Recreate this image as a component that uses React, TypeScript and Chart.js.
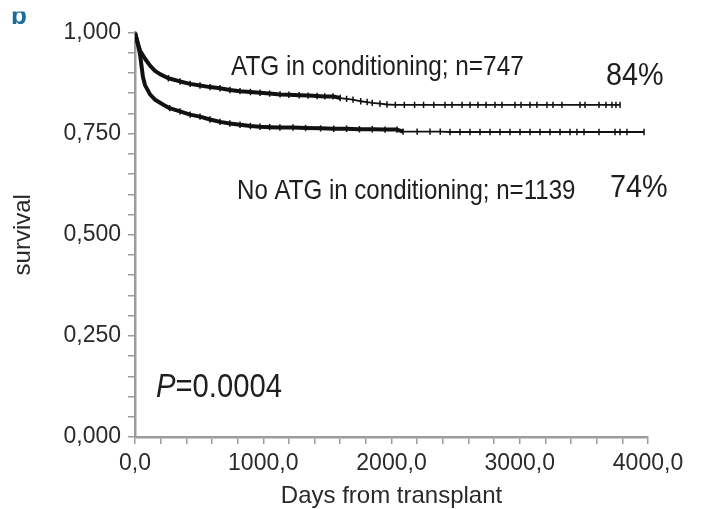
import React, { useEffect, useRef } from "react";
import { Chart, registerables } from "chart.js";

Chart.register(...registerables);

// ---- Data ----
const atgDays = [0, 20, 40, 78, 117, 156, 195, 260, 351, 430, 507, 585, 663, 740, 819, 900, 975, 1050, 1131, 1200, 1280, 1350, 1420, 1480, 1544, 1600, 1650, 1700, 1760, 1810, 1850, 1910, 1965, 2030, 2100, 2180, 2250, 2330, 2417, 2472, 2550, 2612, 2674, 2737, 2807, 2861, 2963, 3010, 3080, 3134, 3212, 3259, 3329, 3470, 3509, 3618, 3672, 3719, 3750, 3782];
const atgSurv = [1.0, 0.975, 0.955, 0.935, 0.918, 0.905, 0.897, 0.887, 0.879, 0.873, 0.869, 0.865, 0.862, 0.858, 0.855, 0.853, 0.851, 0.849, 0.847, 0.846, 0.845, 0.844, 0.843, 0.842, 0.842, 0.838, 0.836, 0.834, 0.83, 0.828, 0.826, 0.824, 0.822, 0.821, 0.821, 0.821, 0.821, 0.821, 0.821, 0.821, 0.821, 0.821, 0.821, 0.821, 0.821, 0.821, 0.821, 0.821, 0.821, 0.821, 0.821, 0.821, 0.821, 0.821, 0.821, 0.821, 0.821, 0.821, 0.821, 0.821];

const noAtgDays = [0, 20, 39, 62, 78, 117, 160, 218, 270, 351, 430, 507, 585, 663, 740, 819, 900, 975, 1050, 1130, 1232, 1330, 1447, 1550, 1650, 1750, 1850, 1950, 2043, 2090, 2200, 2300, 2380, 2456, 2534, 2612, 2690, 2768, 2846, 2924, 3002, 3080, 3158, 3236, 3314, 3392, 3446, 3501, 3618, 3743, 3782, 3836, 3969];
const noAtgSurv = [1.0, 0.975, 0.946, 0.89, 0.87, 0.847, 0.833, 0.822, 0.813, 0.805, 0.797, 0.792, 0.785, 0.779, 0.775, 0.772, 0.769, 0.767, 0.766, 0.765, 0.765, 0.764, 0.763, 0.762, 0.762, 0.761, 0.761, 0.76, 0.76, 0.755, 0.755, 0.755, 0.755, 0.754, 0.754, 0.754, 0.754, 0.754, 0.754, 0.754, 0.754, 0.754, 0.754, 0.754, 0.754, 0.754, 0.754, 0.754, 0.754, 0.754, 0.754, 0.754, 0.754];

const xMin = 0;
const xMax = 4000;
const xStep = 200;
const xLabelEvery = 1000;
const yMin = 0;
const yMax = 1;
const yStep = 0.05;
const yLabelEvery = 0.25;

const atgLabel = "ATG in conditioning; n=747";
const atgPct = "84%";
const noAtgLabel = "No ATG in conditioning; n=1139";
const noAtgPct = "74%";
const pLabel = "P";
const pValue = "=0.0004";
const xTitle = "Days from transplant";
const yTitle = "survival";
const panelLetter = "b";

const FONT = '"Liberation Sans", Arial, Helvetica, sans-serif';
const AXIS_GRAY = "#9c9c9c";
const TEXT = "#1e1e1e";
const INK = "#111111";

function toPoints(xs: number[], ys: number[]) {
  return xs.map((x, i) => ({ x, y: ys[i] }));
}

const annotPlugin = {
  id: "annot",
  afterDraw(chart: any) {
    const ctx = chart.ctx as CanvasRenderingContext2D;
    const drawText = (
      text: string,
      x: number,
      y: number,
      size: number,
      sx: number,
      italic = false
    ) => {
      ctx.save();
      ctx.font = `${italic ? "italic " : ""}${size}px ${FONT}`;
      ctx.fillStyle = TEXT;
      ctx.textBaseline = "alphabetic";
      ctx.textAlign = "left";
      ctx.translate(x, y);
      ctx.scale(sx, 1);
      ctx.fillText(text, 0, 0);
      const w = ctx.measureText(text).width * sx;
      ctx.restore();
      return w;
    };
    drawText(atgLabel, 231, 74.5, 28, 0.87);
    drawText(atgPct, 606, 85, 32, 0.9);
    drawText(noAtgLabel, 237, 199, 28, 0.86);
    drawText(noAtgPct, 610, 197, 32, 0.9);
    const pw = drawText(pLabel, 156, 396.5, 34, 0.86, true);
    drawText(pValue, 156 + pw, 396.5, 34, 0.86);

    // panel letter, cropped at top as in the reference
    ctx.save();
    ctx.beginPath();
    ctx.rect(0, 11.5, 60, 30);
    ctx.clip();
    ctx.font = `bold 26px ${FONT}`;
    ctx.fillStyle = "#1b6d98";
    ctx.textBaseline = "alphabetic";
    ctx.fillText(panelLetter, 11, 24);
    ctx.restore();
  },
};

export default function App() {
  const ref = useRef<HTMLCanvasElement | null>(null);

  useEffect(() => {
    document.body.style.margin = "0";
    const canvas = ref.current;
    if (!canvas) return;

    const markRadius = (c: any) => {
      const r = c.raw;
      return r && r.x > 220 ? 3.2 : 0;
    };
    const segWidth = (limit: number) => (c: any) =>
      c.p0.parsed.x < limit ? 4 : 1.8;

    const common = {
      borderColor: INK,
      borderWidth: 2,
      pointStyle: "line",
      rotation: 90,
      pointRadius: markRadius,
      pointBorderWidth: 1.5,
      pointBorderColor: INK,
      pointBackgroundColor: INK,
      tension: 0,
      fill: false,
      borderJoinStyle: "round",
    };

    const chart = new Chart(canvas, {
      type: "line",
      data: {
        datasets: [
          {
            ...common,
            label: atgLabel,
            data: toPoints(atgDays, atgSurv),
            segment: { borderWidth: segWidth(1550) } as any,
          } as any,
          {
            ...common,
            label: noAtgLabel,
            data: toPoints(noAtgDays, noAtgSurv),
            segment: { borderWidth: segWidth(2050) } as any,
          } as any,
        ],
      },
      options: {
        animation: false,
        responsive: false,
        devicePixelRatio: 1,
        events: [],
        layout: { padding: { left: 0, top: 32.5, right: 57, bottom: 0 } },
        plugins: {
          legend: { display: false },
          tooltip: { enabled: false },
          title: { display: false },
        },
        scales: {
          x: {
            type: "linear",
            min: xMin,
            max: xMax,
            afterFit: (s: any) => {
              s.height = 509 - 437;
            },
            afterBuildTicks: (s: any) => {
              const t = [];
              for (let v = xMin; v <= xMax + 1e-9; v += xStep) t.push({ value: v });
              s.ticks = t;
            },
            ticks: {
              autoSkip: false,
              maxRotation: 0,
              minRotation: 0,
              padding: 6,
              color: "#2a2a2a",
              font: { family: FONT, size: 23 },
              callback: (v: any) =>
                Number(v) % xLabelEvery === 0 ? Number(v).toFixed(1).replace(".", ",") : "",
            },
            grid: {
              display: true,
              drawOnChartArea: false,
              drawTicks: true,
              tickLength: 7,
              color: AXIS_GRAY,
              lineWidth: 1.5,
            },
            border: { display: true, color: AXIS_GRAY, width: 2.5 },
            title: {
              display: true,
              text: xTitle,
              color: "#2a2a2a",
              font: { family: FONT, size: 24 },
              padding: { top: 0, bottom: -2 },
            },
          },
          y: {
            type: "linear",
            min: yMin,
            max: yMax,
            afterFit: (s: any) => {
              s.width = 135;
            },
            afterBuildTicks: (s: any) => {
              const t = [];
              const n = Math.round((yMax - yMin) / yStep);
              for (let i = 0; i <= n; i++) t.push({ value: yMin + i * yStep });
              s.ticks = t;
            },
            ticks: {
              autoSkip: false,
              padding: 7,
              color: "#2a2a2a",
              font: { family: FONT, size: 23 },
              callback: (v: any) => {
                const q = Number(v) / yLabelEvery;
                return Math.abs(q - Math.round(q)) < 1e-6
                  ? Number(v).toFixed(3).replace(".", ",")
                  : "";
              },
            },
            grid: {
              display: true,
              drawOnChartArea: false,
              drawTicks: true,
              tickLength: 7,
              color: AXIS_GRAY,
              lineWidth: 1.5,
            },
            border: { display: true, color: AXIS_GRAY, width: 2.5 },
            title: {
              display: true,
              text: yTitle,
              color: "#2a2a2a",
              font: { family: FONT, size: 24 },
              padding: { top: 9, bottom: 0 },
            },
          },
        },
      },
      plugins: [annotPlugin],
    });

    return () => chart.destroy();
  }, []);

  return (
    <canvas
      ref={ref}
      width={705}
      height={509}
      style={{ display: "block", width: 705, height: 509 }}
    />
  );
}
